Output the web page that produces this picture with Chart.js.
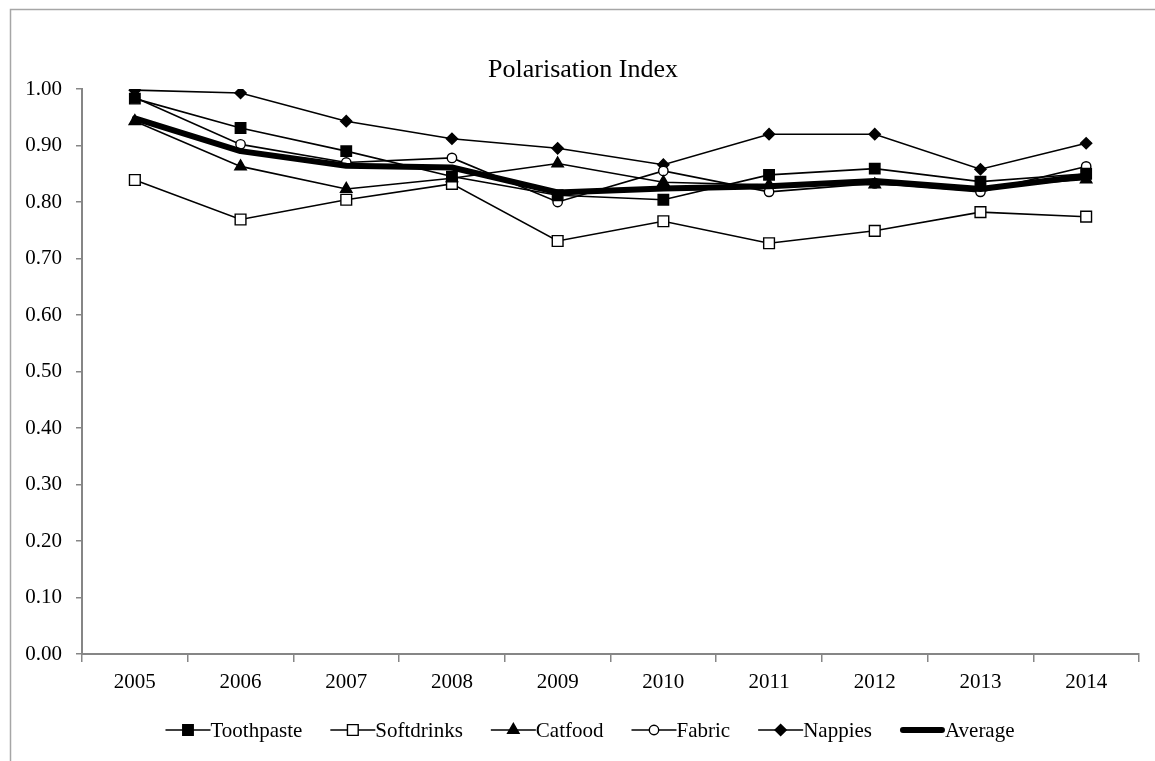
<!DOCTYPE html>
<html>
<head>
<meta charset="utf-8">
<script src="https://cdn.jsdelivr.net/npm/chart.js@4/dist/chart.umd.min.js"></script>
<style>
  html, body { margin: 0; padding: 0; background: #fff; }
  #wrap { width: 1155px; height: 761px; position: relative; }
</style>
</head>
<body>
<div id="wrap"><canvas id="c" width="1155" height="761"></canvas></div>
<script>
const titleText = 'Polarisation Index';
const years = ['2005','2006','2007','2008','2009','2010','2011','2012','2013','2014'];
const yTicks = [0, 0.1, 0.2, 0.3, 0.4, 0.5, 0.6, 0.7, 0.8, 0.9, 1.0];

const toothpaste = [0.983, 0.931, 0.890, 0.845, 0.812, 0.804, 0.848, 0.859, 0.836, 0.850];
const softdrinks = [0.839, 0.769, 0.804, 0.832, 0.731, 0.766, 0.727, 0.749, 0.782, 0.774];
const catfood    = [0.943, 0.863, 0.823, 0.842, 0.868, 0.835, 0.830, 0.831, 0.826, 0.840];
const fabric     = [0.985, 0.902, 0.870, 0.878, 0.800, 0.855, 0.818, 0.833, 0.818, 0.863];
const nappies    = [0.998, 0.993, 0.943, 0.912, 0.895, 0.866, 0.920, 0.920, 0.858, 0.904];
const average    = [0.948, 0.890, 0.864, 0.861, 0.817, 0.824, 0.828, 0.837, 0.823, 0.846];

const FONT = "'Liberation Serif', 'Times New Roman', serif";
const AXIS = '#868686';

function series(label, data, style, radius, fill, order) {
  return {
    label, data, order,
    borderColor: '#000', borderWidth: 1.6,
    pointStyle: style, pointRadius: radius, pointHoverRadius: radius,
    pointBackgroundColor: fill, pointBorderColor: '#000', pointBorderWidth: 1.4,
    tension: 0, fill: false
  };
}

const datasets = [
  series('Toothpaste', toothpaste, 'rect', 7.4, '#000', 1),
  series('Softdrinks', softdrinks, 'rect', 7.6, '#fff', 1),
  series('Catfood', catfood, 'triangle', 6.6, '#000', 1),
  series('Fabric', fabric, 'circle', 4.7, '#fff', 1),
  series('Nappies', nappies, 'rectRot', 5.6, '#000', 1),
  { label: 'Average', data: average, order: 0, borderColor: '#000', borderWidth: 6,
    pointRadius: 0, pointHoverRadius: 0, tension: 0, fill: false, borderCapStyle: 'round', borderJoinStyle: 'round' }
];

function drawMarker(ctx, ds, x, y) {
  if (!ds.pointRadius) return;
  const opts = { pointStyle: ds.pointStyle, radius: ds.pointRadius, borderWidth: ds.pointBorderWidth, rotation: 0 };
  ctx.save();
  ctx.fillStyle = ds.pointBackgroundColor;
  ctx.strokeStyle = ds.pointBorderColor;
  ctx.lineWidth = ds.pointBorderWidth;
  if (Chart.helpers && Chart.helpers.drawPoint) {
    Chart.helpers.drawPoint(ctx, opts, x, y);
  } else {
    ctx.beginPath(); ctx.arc(x, y, ds.pointRadius, 0, Math.PI * 2); ctx.fill(); ctx.stroke();
  }
  ctx.restore();
}

const decor = {
  id: 'decor',
  beforeDraw(chart) {
    const ctx = chart.ctx;
    ctx.save();
    ctx.fillStyle = '#fff';
    ctx.fillRect(0, 0, chart.width, chart.height);
    ctx.strokeStyle = '#a6a6a6';
    ctx.lineWidth = 1.5;
    ctx.strokeRect(10.5, 9.5, 1400, 1000);
    ctx.restore();
  },
  afterDraw(chart) {
    const ctx = chart.ctx;
    ctx.save();
    ctx.fillStyle = '#000';
    ctx.font = '26px ' + FONT;
    ctx.textAlign = 'center';
    ctx.textBaseline = 'middle';
    ctx.fillText(titleText, 583, 70);
    ctx.font = '21px ' + FONT;
    ctx.textAlign = 'left';
    const lineW = 45, gap = 28, y = 730;
    const items = chart.data.datasets;
    let total = 0;
    items.forEach((ds, i) => { total += lineW + ctx.measureText(ds.label).width + (i < items.length - 1 ? gap : 0); });
    let x = 590 - total / 2;
    items.forEach(ds => {
      ctx.save();
      ctx.strokeStyle = '#000';
      ctx.lineWidth = ds.borderWidth > 3 ? 6 : 1.6;
      ctx.lineCap = ds.borderWidth > 3 ? 'round' : 'butt';
      ctx.beginPath();
      const inset = ds.borderWidth > 3 ? 3 : 0;
      ctx.moveTo(x + inset, y); ctx.lineTo(x + lineW - inset, y);
      ctx.stroke();
      ctx.restore();
      drawMarker(ctx, ds, x + lineW / 2, y);
      ctx.fillStyle = '#000';
      ctx.fillText(ds.label, x + lineW, y + 1);
      x += lineW + ctx.measureText(ds.label).width + gap;
    });
    ctx.restore();
  }
};

new Chart(document.getElementById('c'), {
  type: 'line',
  data: { labels: years, datasets },
  plugins: [decor],
  options: {
    responsive: false,
    animation: false,
    devicePixelRatio: 1,
    layout: { padding: { top: 89, right: 16, bottom: 0, left: 0 } },
    plugins: { legend: { display: false }, title: { display: false }, tooltip: { enabled: false } },
    scales: {
      x: {
        type: 'category',
        offset: true,
        grid: { offset: true, drawOnChartArea: false, drawTicks: true, tickLength: 8, color: AXIS, lineWidth: 1.5 },
        border: { display: true, color: AXIS, width: 2 },
        ticks: { font: { family: FONT, size: 21 }, color: '#000', padding: 8, maxRotation: 0, autoSkip: false },
        afterFit(s) { s.height = 107; }
      },
      y: {
        min: 0, max: 1,
        afterBuildTicks(s) { s.ticks = yTicks.map(v => ({ value: v })); },
        grid: { drawOnChartArea: false, drawTicks: true, tickLength: 6, color: AXIS, lineWidth: 1.5 },
        border: { display: true, color: AXIS, width: 2 },
        ticks: { font: { family: FONT, size: 21 }, color: '#000', padding: 14, callback: v => Number(v).toFixed(2) },
        afterFit(s) { s.width = 82; }
      }
    }
  }
});
</script>
</body>
</html>
